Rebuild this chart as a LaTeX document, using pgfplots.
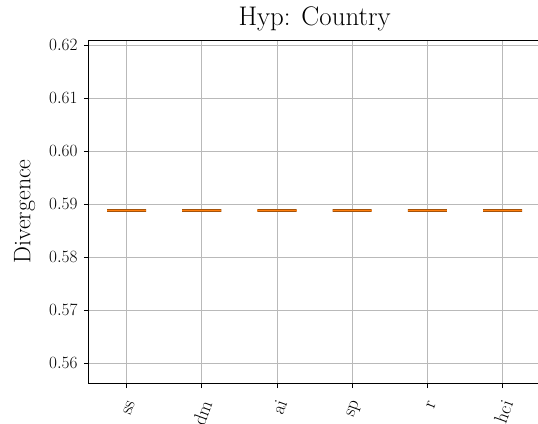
\documentclass[border=0pt]{standalone}
\usepackage{pgfplots}
\pgfplotsset{compat=1.18}
\usepgfplotslibrary{statistics}
\definecolor{mplorange}{HTML}{FF7F0E}
\begin{document}
\begin{tikzpicture}[x=1bp,y=1bp]
\begin{axis}[
  name=ax,
  scale only axis,
  width=451.2bp, height=343bp,
  xmin=0.5, xmax=6.5,
  ymin=0.5563, ymax=0.62095,
  xtick={1,2,3,4,5,6},
  xticklabels={ss,dm,ai,sp,r,hci},
  ytick={0.56,0.57,0.58,0.59,0.60,0.61,0.62},
  yticklabel style={/pgf/number format/fixed, /pgf/number format/precision=2, /pgf/number format/fixed zerofill, font=\fontsize{19}{21}\selectfont, xshift=-3bp},
  xticklabel style={xshift=6bp, yshift=-10bp, rotate=70, anchor=east, font=\fontsize{19}{21}\selectfont},
  ylabel={Divergence},
  ylabel style={font=\fontsize{24}{26}\selectfont},
  ylabel shift=7bp,
  title={Hyp: Country},
  title style={font=\fontsize{27}{30}\selectfont, yshift=0bp},
  grid=major,
  grid style={gray!55, line width=0.8bp},
  tick align=outside,
  tick pos=left,
  major tick length=5bp,
  tick style={black, line width=0.8bp},
  axis line style={black, line width=1bp},
  boxplot/draw direction=y,
]
\foreach \i in {1,...,6} {
\addplot+[
  mplorange!65!black, line width=2.2bp, solid, mark=none,
  boxplot prepared={
    draw position=\i,
    lower whisker=0.5888, lower quartile=0.5888,
    median=0.5888,
    upper quartile=0.5888, upper whisker=0.5888,
    box extend=0.52, whisker extend=0.26,
    every median/.style={mplorange, line width=1.7bp}
  },
] coordinates {};
}
\end{axis}
\pgfresetboundingbox
\path[use as bounding box] ([shift={(-89bp,-41bp)}]ax.south west) rectangle ([shift={(449bp,383bp)}]ax.south west);
\end{tikzpicture}
\end{document}
